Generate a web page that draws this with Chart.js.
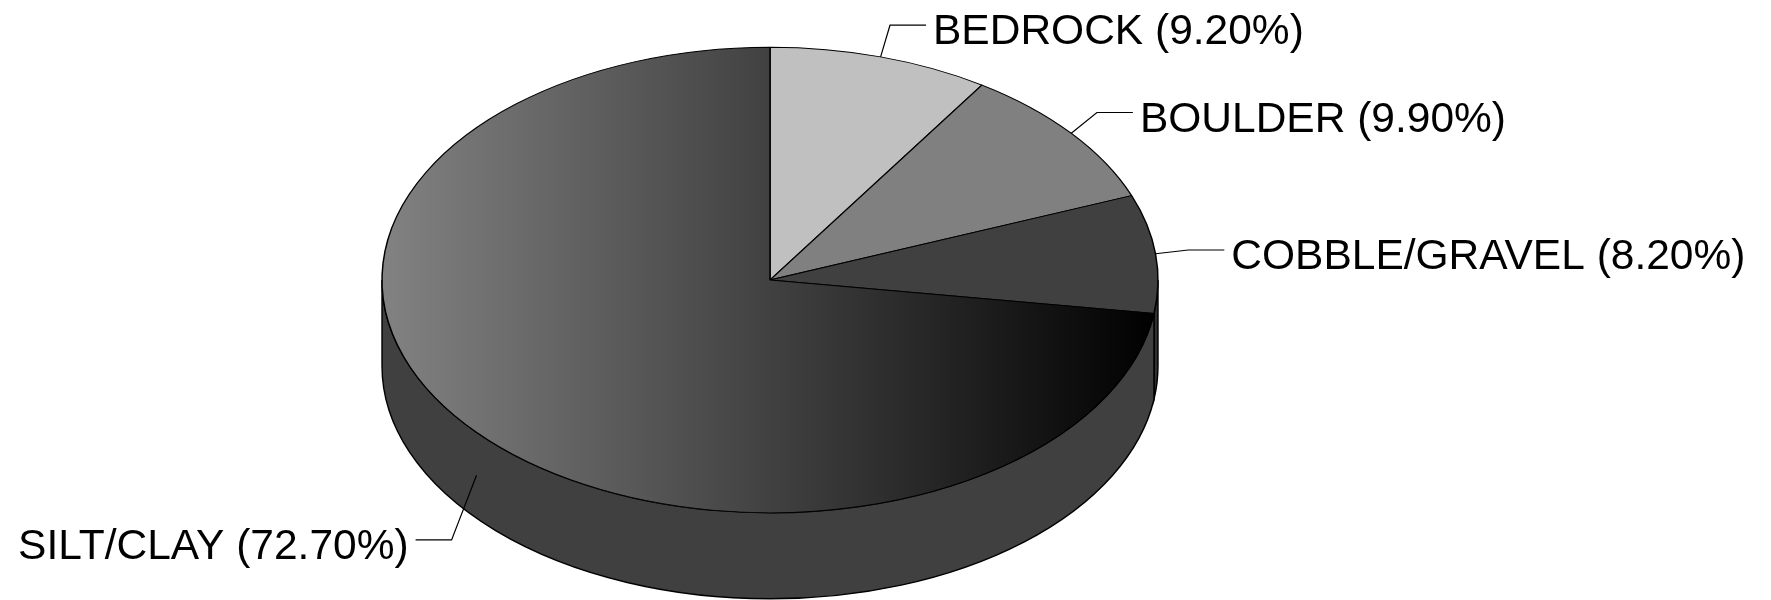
<!DOCTYPE html>
<html><head><meta charset="utf-8">
<script src="https://cdn.jsdelivr.net/npm/chart.js@4"></script>
<style>html,body{margin:0;padding:0;background:#fff;overflow:hidden}canvas{display:block}</style>
</head><body>
<canvas id="c" width="1771" height="600" style="width:1771px;height:600px"></canvas>
<script>
// ---- data ----
const categories = ['BEDROCK', 'BOULDER', 'COBBLE/GRAVEL', 'SILT/CLAY'];
const shares = [9.2, 9.9, 8.2, 72.7];

// ---- styles ----
const topColors = ['#c0c0c0', '#808080', '#404040', 'gradient'];
const sideColors = ['#9a9a9a', '#666666', '#303030', '#404040'];
const RADIUS = 388, TILT = 0.6, DEPTH = 86;
const FONT = '42.5px "Liberation Sans", Arial, sans-serif';

function sliceColor(c) {
  const col = topColors[c.dataIndex];
  if (col !== 'gradient') return col;
  const chart = c.chart, a = chart.chartArea;
  if (!a) return '#404040';
  const cx = (a.left + a.right) / 2;
  const g = chart.ctx.createLinearGradient(cx - RADIUS, 0, cx + RADIUS, 0);
  g.addColorStop(0, '#828282');
  g.addColorStop(1, '#000000');
  return g;
}

const pie3d = {
  id: 'pie3d',
  beforeDatasetsDraw(chart) {
    const ctx = chart.ctx;
    const arcs = chart.getDatasetMeta(0).data;
    const cx = arcs[0].x, cy = arcs[0].y, r = arcs[0].outerRadius;
    const ry = r * TILT;
    ctx.save();
    ctx.lineWidth = 1.4;
    ctx.strokeStyle = '#000';
    arcs.forEach((arc, i) => {
      const a = Math.max(arc.startAngle, 0), b = Math.min(arc.endAngle, Math.PI);
      if (b <= a) return;
      ctx.beginPath();
      ctx.ellipse(cx, cy, r, ry, 0, a, b, false);
      ctx.ellipse(cx, cy + DEPTH, r, ry, 0, b, a, true);
      ctx.closePath();
      ctx.fillStyle = sideColors[i];
      ctx.fill();
      ctx.stroke();
    });
    ctx.restore();
    ctx.save();
    ctx.translate(cx, cy);
    ctx.scale(1, TILT);
    ctx.translate(-cx, -cy);
  },
  afterDatasetsDraw(chart) {
    const ctx = chart.ctx;
    ctx.restore();
    const arcs = chart.getDatasetMeta(0).data;
    const cx = arcs[0].x, cy = arcs[0].y, r = arcs[0].outerRadius;
    const ry = r * TILT;
    ctx.save();
    ctx.font = FONT;
    ctx.fillStyle = '#000';
    ctx.strokeStyle = '#000';
    ctx.lineWidth = 1.2;
    ctx.textBaseline = 'alphabetic';
    arcs.forEach((arc, i) => {
      const mid = (arc.startAngle + arc.endAngle) / 2;
      const c = Math.cos(mid), s = Math.sin(mid);
      const front = s > 0;
      const drop = front ? DEPTH / 2 : 0;
      const ax = cx + r * c, ay = cy + ry * s + drop;
      const ex = ax + 33 * c, ey = ay + 33 * s + drop;
      const dir = c >= 0 ? 1 : -1;
      const hx = ex + dir * 36;
      ctx.beginPath();
      ctx.moveTo(ax, ay);
      ctx.lineTo(ex, ey);
      ctx.lineTo(hx, ey);
      ctx.stroke();
      ctx.textAlign = dir > 0 ? 'left' : 'right';
      const txt = categories[i] + ' (' + shares[i].toFixed(2) + '%)';
      ctx.fillText(txt, hx + dir * 7, ey + 19);
    });
    ctx.restore();
  }
};

new Chart(document.getElementById('c'), {
  type: 'pie',
  data: {
    labels: categories,
    datasets: [{
      data: shares,
      backgroundColor: sliceColor,
      borderColor: '#000',
      borderWidth: 1.5,
      radius: RADIUS,
      clip: false
    }]
  },
  options: {
    responsive: false,
    animation: false,
    events: [],
    layout: { padding: { left: 0, right: 231, top: 0, bottom: 40 } },
    plugins: { legend: { display: false }, tooltip: { enabled: false } }
  },
  plugins: [pie3d]
});
</script>
</body></html>
